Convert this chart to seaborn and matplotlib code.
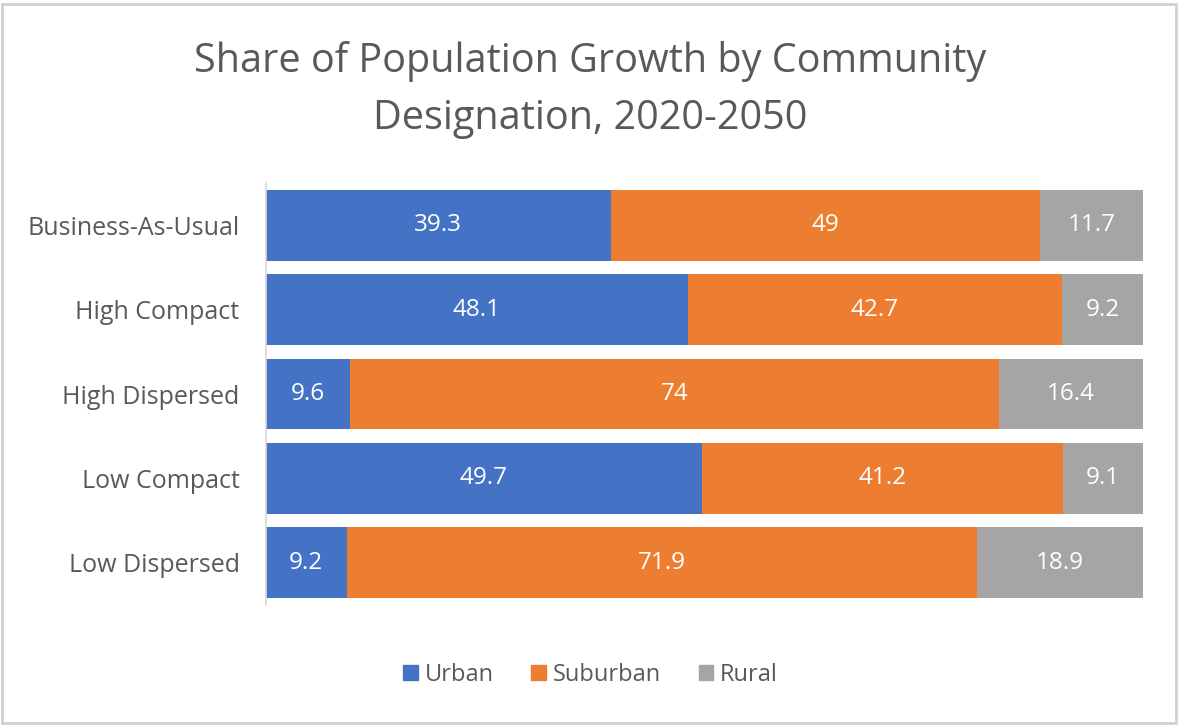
import numpy as np
import pandas as pd
import matplotlib.pyplot as plt
import seaborn as sns
from matplotlib.patches import Rectangle

sns.set_theme(style="white")
plt.rcParams["font.family"] = ["Open Sans", "DejaVu Sans"]

scenarios = ["Business-As-Usual", "High Compact", "High Dispersed", "Low Compact", "Low Dispersed"]
urban = [39.3, 48.1, 9.6, 49.7, 9.2]
suburban = [49, 42.7, 74, 41.2, 71.9]
rural = [11.7, 9.2, 16.4, 9.1, 18.9]
series = ["Urban", "Suburban", "Rural"]
colors = ["#4472C4", "#ED7D31", "#A5A5A5"]
text_col = "#595959"

df = pd.DataFrame({"Scenario": scenarios, "Urban": urban, "Suburban": suburban, "Rural": rural})
df["c1"] = df["Urban"]
df["c2"] = df["Urban"] + df["Suburban"]
df["c3"] = df["c2"] + df["Rural"]

fig = plt.figure(figsize=(11.81, 7.25), dpi=100)
ax = fig.add_axes([0.2252, 0.1655, 0.7426, 0.5821])

# stacked bars: draw cumulative totals back to front
for col, c in zip(["c3", "c2", "c1"], colors[::-1]):
    sns.barplot(data=df, x=col, y="Scenario", orient="h", color=c, width=0.84,
                saturation=1, ax=ax, linewidth=0)

# segment labels
for i, row in df.iterrows():
    starts = [0, row["c1"], row["c2"]]
    for s, name in zip(starts, series):
        v = row[name]
        ax.text(s + v / 2, i, f"{v:g}", ha="center", va="center",
                color="white", fontsize=17.5)

ax.set_xlim(0, 100)
ax.set_ylim(4.5, -0.5)
ax.set_xlabel("")
ax.set_ylabel("")
ax.set_xticks([])
for sp in ["top", "right", "bottom"]:
    ax.spines[sp].set_visible(False)
ax.spines["left"].set_color("#D9D9D9")
ax.spines["left"].set_linewidth(1.2)
ax.tick_params(axis="y", length=0, pad=19, labelsize=18, labelcolor=text_col)

fig.text(0.5, 0.876, "Share of Population Growth by Community\nDesignation, 2020-2050",
         ha="center", va="center", fontsize=28.5, color=text_col, linespacing=1.55)

handles = [Rectangle((0, 0), 1, 1, color=c) for c in colors]
fig.legend(handles, series, loc="center", bbox_to_anchor=(0.5, 0.069), ncol=3,
           frameon=False, fontsize=17, labelcolor=text_col, handlelength=0.6,
           handleheight=0.6, handletextpad=0.3, columnspacing=1.6)

# light outer border
fig.patches.append(Rectangle((0.002, 0.003), 0.994, 0.992, transform=fig.transFigure,
                             fill=False, edgecolor="#D0D0D0", linewidth=2))

fig.savefig("out.png", dpi=100)
